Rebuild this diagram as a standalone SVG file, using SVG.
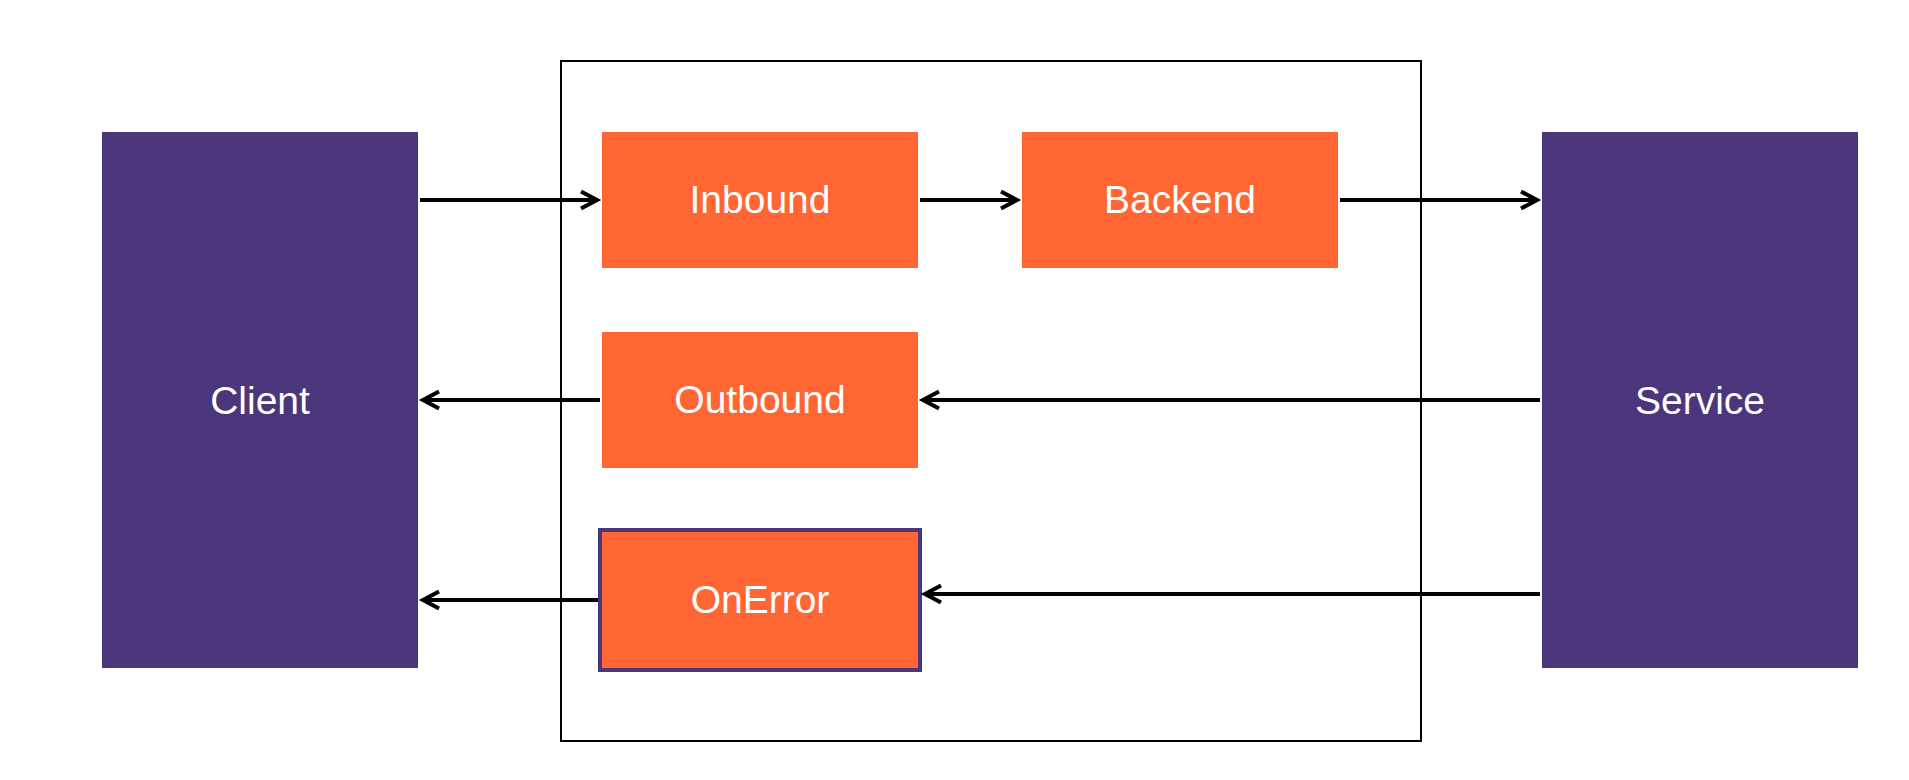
<svg xmlns="http://www.w3.org/2000/svg" width="1909" height="780" viewBox="0 0 1909 780">
  <style>
    .ext { fill: #4b367c; }
    .stage { fill: #ff6633; }
    .err { fill: #ff6633; stroke: #4b367c; stroke-width: 4; }
    .lbl { font-family: "Liberation Sans", Arial, Helvetica, sans-serif; font-size: 39px; fill: #ffffff; text-anchor: middle; }
    .conn { stroke: #000000; stroke-width: 4; fill: none; }
  </style>
  <defs>
    <marker id="open" markerUnits="userSpaceOnUse" viewBox="-20 -12 22 24" refX="0" refY="0" markerWidth="22" markerHeight="24" orient="auto" overflow="visible">
      <path d="M-16,-8.5 L0,0 L-16,8.5" fill="none" stroke="#000000" stroke-width="4"/>
    </marker>
  </defs>
  <rect width="1909" height="780" fill="#ffffff"/>

  <g id="container">
    <rect x="561" y="61" width="860" height="680" fill="none" stroke="#000000" stroke-width="2"/>
  </g>

  <g id="client">
    <rect class="ext" x="102" y="132" width="316" height="536"/>
    <text class="lbl" x="260" y="414">Client</text>
  </g>
  <g id="service">
    <rect class="ext" x="1542" y="132" width="316" height="536"/>
    <text class="lbl" x="1700" y="414">Service</text>
  </g>
  <g id="inbound">
    <rect class="stage" x="602" y="132" width="316" height="136"/>
    <text class="lbl" x="760" y="213">Inbound</text>
  </g>
  <g id="backend">
    <rect class="stage" x="1022" y="132" width="316" height="136"/>
    <text class="lbl" x="1180" y="213">Backend</text>
  </g>
  <g id="outbound">
    <rect class="stage" x="602" y="332" width="316" height="136"/>
    <text class="lbl" x="760" y="413">Outbound</text>
  </g>
  <g id="onerror">
    <rect class="err" x="600" y="530" width="320" height="140"/>
    <text class="lbl" x="760" y="613">OnError</text>
  </g>

  <g id="connectors">
    <line class="conn" x1="420" y1="200" x2="597" y2="200" marker-end="url(#open)"/>
    <line class="conn" x1="920" y1="200" x2="1017" y2="200" marker-end="url(#open)"/>
    <line class="conn" x1="1340" y1="200" x2="1537" y2="200" marker-end="url(#open)"/>
    <line class="conn" x1="1540" y1="400" x2="923" y2="400" marker-end="url(#open)"/>
    <line class="conn" x1="600" y1="400" x2="423" y2="400" marker-end="url(#open)"/>
    <line class="conn" x1="1540" y1="594" x2="925" y2="594" marker-end="url(#open)"/>
    <line class="conn" x1="598" y1="600" x2="423" y2="600" marker-end="url(#open)"/>
  </g>
</svg>
